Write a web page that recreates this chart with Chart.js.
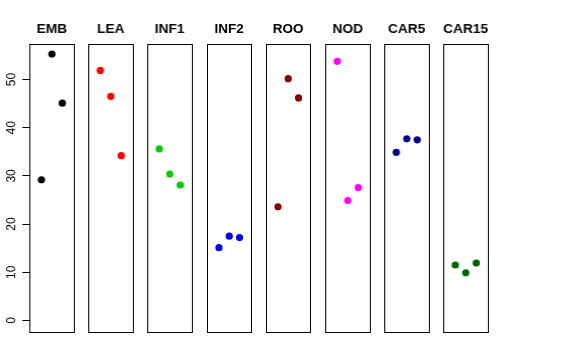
<!DOCTYPE html>
<html>
<head>
<meta charset="utf-8">
<script src="https://cdn.jsdelivr.net/npm/chart.js@4/dist/chart.umd.min.js"></script>
<style>
  body { margin: 0; background: #fff; }
  #wrap { position: relative; width: 576px; height: 360px; overflow: hidden; }
  .panel { position: absolute; top: 0; height: 360px; }
</style>
</head>
<body>
<div id="wrap"></div>
<script>
// one small panel per tissue, three replicates each
const tissues = ["EMB", "LEA", "INF1", "INF2", "ROO", "NOD", "CAR5", "CAR15"];
const replicates = [1, 2, 3];
const EMB = [29.2, 55.3, 45.1];
const LEA = [51.9, 46.5, 34.2];
const INF1 = [35.6, 30.4, 28.1];
const INF2 = [15.1, 17.5, 17.2];
const ROO = [23.6, 50.2, 46.2];
const NOD = [53.8, 24.9, 27.6];
const CAR5 = [34.9, 37.7, 37.5];
const CAR15 = [11.5, 9.9, 11.9];
const yTicks = [0, 10, 20, 30, 40, 50];

const values = [EMB, LEA, INF1, INF2, ROO, NOD, CAR5, CAR15];
const colors = ["#000000", "#FF0000", "#00CD00", "#0000FF", "#8B0000", "#FF00FF", "#00008B", "#006400"];

// panel geometry (pixels)
const firstLeft = 29, pitch = 59.2, boxW = 44.5;
const boxTop = 43.5, boxBottom = 331;
const titleSize = 13.5;

const boxBorder = {
  id: "boxBorder",
  afterDraw(chart) {
    const {ctx, chartArea: a} = chart;
    ctx.save();
    ctx.strokeStyle = "#000";
    ctx.lineWidth = 1;
    ctx.strokeRect(Math.round(a.left) + 0.5, Math.round(a.top) + 0.5,
      Math.round(a.right - a.left) - 1, Math.round(a.bottom - a.top));
    ctx.restore();
  }
};

const wrap = document.getElementById("wrap");

tissues.forEach((name, i) => {
  const withAxis = i === 0;
  const boxLeft = firstLeft + i * pitch;
  const padSide = 12;
  const left = withAxis ? 0 : boxLeft - padSide;
  const width = withAxis ? boxLeft + boxW + padSide : boxW + 2 * padSide;

  const div = document.createElement("div");
  div.className = "panel";
  div.style.left = left + "px";
  div.style.width = width + "px";
  const canvas = document.createElement("canvas");
  div.appendChild(canvas);
  wrap.appendChild(div);

  new Chart(canvas, {
    type: "scatter",
    data: {
      datasets: [{
        label: name,
        data: values[i].map((v, k) => ({x: replicates[k], y: v})),
        backgroundColor: colors[i],
        borderColor: colors[i],
        pointRadius: 3.6,
        borderWidth: 0
      }]
    },
    options: {
      responsive: true,
      maintainAspectRatio: false,
      animation: false,
      layout: {
        padding: {
          left: withAxis ? 0 : padSide,
          right: padSide,
          top: 0,
          bottom: 360 - boxBottom
        }
      },
      plugins: {
        legend: { display: false },
        tooltip: { enabled: false },
        title: {
          display: true,
          text: name,
          fullSize: false,
          color: "#000",
          font: { family: "'Liberation Sans', Arial, sans-serif", size: titleSize, weight: "bold" },
          padding: { top: 21.5, bottom: boxTop - 21.5 - titleSize * 1.2 }
        }
      },
      scales: {
        x: {
          type: "linear",
          min: -0.16,
          max: 4.16,
          display: false
        },
        y: {
          type: "linear",
          min: -2.2,
          max: 57.5,
          display: withAxis,
          afterBuildTicks: s => { s.ticks = yTicks.map(v => ({value: v})); },
          afterFit: s => {
            if (!withAxis) return;
            s.width = boxLeft;
            s.paddingTop = 0;
            s.paddingBottom = 0;
          },
          border: { display: false },
          grid: {
            drawOnChartArea: false,
            drawTicks: true,
            tickLength: 7,
            color: "#000"
          },
          ticks: {
            color: "#000",
            minRotation: 90,
            maxRotation: 90,
            crossAlign: "center",
            padding: 4,
            font: { family: "'Liberation Sans', Arial, sans-serif", size: 12 }
          }
        }
      }
    },
    plugins: [boxBorder]
  });
});
</script>
</body>
</html>
